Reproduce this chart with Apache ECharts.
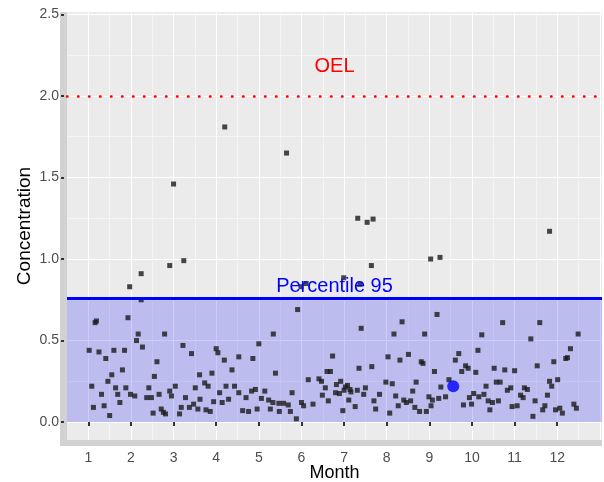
<!DOCTYPE html>
<html>
<head>
<meta charset="utf-8">
<script src="https://cdn.jsdelivr.net/npm/echarts@6/dist/echarts.min.js"></script>
<style>
  html, body { margin: 0; padding: 0; background: #fff; }
  #main { width: 604px; height: 482px; }
</style>
</head>
<body>
<div id="main"></div>
<script>
// tick labels
var monthTicks = [1, 2, 3, 4, 5, 6, 7, 8, 9, 10, 11, 12]
var concTicks = [0, 0.5, 1, 1.5, 2, 2.5]

// reference levels
var oel = 2.0
var p95 = 0.764

// big blue point
var bluePoint = [[9.56, 0.22]]

// samples: [month (jittered), concentration]
var samples = [
  [1.97, 0.83], [2.24, 0.91], [2.91, 0.96], [3.24, 0.99], [3.00, 1.46], [4.20, 1.81],
  [5.65, 1.65], [5.99, 0.83], [6.11, 0.85], [6.99, 0.885], [7.32, 1.25], [7.54, 1.225],
  [7.68, 1.245], [7.64, 0.96], [7.37, 0.845], [9.03, 1.00], [9.25, 1.01], [11.82, 1.17],
  [2.24, 0.75], [1.19, 0.62], [1.16, 0.61], [1.93, 0.64], [2.17, 0.54], [2.79, 0.54],
  [2.13, 0.50], [2.27, 0.46], [1.02, 0.44], [1.25, 0.43], [1.60, 0.44], [1.85, 0.44],
  [3.22, 0.47], [3.42, 0.42], [1.41, 0.39], [2.61, 0.37], [1.80, 0.32], [1.55, 0.29],
  [2.55, 0.28], [1.46, 0.25], [1.08, 0.22], [1.64, 0.21], [1.88, 0.21], [2.42, 0.21],
  [3.04, 0.22], [3.51, 0.21], [1.31, 0.17], [1.69, 0.17], [1.99, 0.17], [2.09, 0.16],
  [2.37, 0.15], [2.48, 0.15], [2.66, 0.17], [2.91, 0.19], [2.95, 0.16], [3.28, 0.15],
  [3.61, 0.29], [1.74, 0.12], [1.12, 0.09], [1.37, 0.10], [1.50, 0.04], [2.52, 0.055],
  [2.71, 0.08], [2.81, 0.05], [2.76, 0.06], [3.14, 0.05], [3.18, 0.09], [3.37, 0.09],
  [3.47, 0.11], [3.57, 0.08],
  [5.91, 0.69], [5.34, 0.54], [5.00, 0.48], [4.00, 0.45], [4.04, 0.425], [4.53, 0.40],
  [4.86, 0.39], [4.19, 0.38], [4.37, 0.32], [3.90, 0.30], [5.39, 0.30], [3.73, 0.24],
  [3.81, 0.22], [4.23, 0.22], [4.43, 0.22], [4.08, 0.18], [4.53, 0.18], [4.83, 0.19],
  [4.92, 0.20], [5.14, 0.19], [4.70, 0.15], [3.62, 0.14], [3.94, 0.125], [4.14, 0.12],
  [4.29, 0.14], [5.06, 0.145], [5.23, 0.135], [5.33, 0.12], [5.78, 0.18], [6.16, 0.26],
  [6.41, 0.265], [6.47, 0.25], [6.60, 0.31], [6.49, 0.165], [5.47, 0.115], [5.58, 0.115],
  [5.69, 0.105], [6.00, 0.12], [6.05, 0.10], [6.27, 0.11], [3.76, 0.075], [3.86, 0.065],
  [4.62, 0.07], [4.76, 0.065], [4.96, 0.08], [5.27, 0.08], [5.48, 0.065], [5.74, 0.065],
  [5.88, 0.02], [6.63, 0.13],
  [9.18, 0.66], [7.40, 0.575], [8.36, 0.615], [8.17, 0.54], [8.89, 0.54], [6.73, 0.405],
  [8.03, 0.40], [8.51, 0.415], [8.31, 0.38], [8.81, 0.37], [8.85, 0.36], [9.61, 0.38],
  [9.69, 0.42], [7.35, 0.33], [7.65, 0.34], [9.12, 0.31], [6.68, 0.31], [6.92, 0.25],
  [6.82, 0.23], [6.56, 0.21], [7.03, 0.215], [7.08, 0.225], [7.00, 0.195], [7.16, 0.185],
  [7.14, 0.20], [7.31, 0.195], [7.50, 0.21], [7.98, 0.245], [8.13, 0.235], [8.69, 0.245],
  [8.61, 0.19], [9.27, 0.215], [9.46, 0.26], [6.80, 0.18], [6.89, 0.175], [7.46, 0.17],
  [7.83, 0.17], [8.21, 0.16], [7.11, 0.135], [7.70, 0.13], [8.40, 0.135], [8.46, 0.12],
  [8.56, 0.13], [8.99, 0.155], [9.07, 0.135], [9.22, 0.145], [9.38, 0.155], [8.27, 0.10],
  [8.66, 0.09], [7.26, 0.095], [7.74, 0.08], [6.97, 0.07], [8.07, 0.055], [8.77, 0.065],
  [8.93, 0.065], [9.04, 0.10],
  [10.72, 0.61], [11.59, 0.61], [10.23, 0.535], [11.38, 0.51], [12.49, 0.54], [10.14, 0.44],
  [12.31, 0.45], [12.20, 0.39], [12.24, 0.395], [11.92, 0.37], [9.85, 0.345], [9.91, 0.33],
  [9.76, 0.31], [10.09, 0.305], [10.52, 0.33], [10.77, 0.32], [11.00, 0.315], [11.53, 0.345],
  [11.82, 0.25], [11.87, 0.22], [12.01, 0.26], [10.57, 0.245], [10.66, 0.245], [10.33, 0.22],
  [10.83, 0.195], [10.91, 0.21], [11.23, 0.21], [11.30, 0.20], [10.04, 0.175], [9.94, 0.15],
  [10.16, 0.155], [10.28, 0.17], [11.14, 0.165], [11.20, 0.15], [11.77, 0.165], [10.38, 0.13],
  [10.48, 0.12], [10.62, 0.13], [11.48, 0.13], [9.80, 0.105], [9.99, 0.11], [10.94, 0.095],
  [11.06, 0.10], [11.71, 0.10], [11.66, 0.075], [11.96, 0.075], [12.06, 0.085], [12.12, 0.055],
  [12.39, 0.11], [12.45, 0.085], [10.42, 0.075], [11.43, 0.035]
]

var font = 'Liberation Sans, Arial, sans-serif'
var xMin = 0.5, xMax = 13.05
var yMin = -0.11, yMax = 2.515

var chart = echarts.init(document.getElementById('main'))

var option = {
  backgroundColor: '#ffffff',
  animation: false,
  grid: {
    left: 67, right: 2, top: 12, bottom: 42,
    outerBoundsMode: 'none', containLabel: false,
    show: true, backgroundColor: '#ebebeb', borderWidth: 0
  },
  // grey strips along left and bottom of panel
  graphic: [
    { type: 'rect', z: -10, shape: { x: 60, y: 12, width: 7, height: 434 }, style: { fill: '#d2d2d2' } },
    { type: 'rect', z: -10, shape: { x: 60, y: 440, width: 542, height: 6 }, style: { fill: '#d2d2d2' } }
  ],
  xAxis: [
    {
      // grid lines only
      type: 'value', min: xMin, max: xMax, interval: 0.5,
      axisLine: { show: false }, axisTick: { show: false }, axisLabel: { show: false },
      splitLine: { show: true, showMinLine: false, showMaxLine: false,
        lineStyle: { color: ['#ffffff', '#f5f5f5'], width: 1 } }
    },
    {
      // ticks + labels
      type: 'value', min: xMin, max: xMax, position: 'bottom',
      axisLine: { show: false },
      axisTick: { show: true, customValues: monthTicks, length: 4, lineStyle: { color: '#333', width: 2 } },
      axisLabel: { customValues: monthTicks, color: '#4d4d4d', fontSize: 14, margin: 11, fontFamily: font },
      splitLine: { show: false },
      name: 'Month', nameLocation: 'middle', nameGap: 24, nameMoveOverlap: false,
      nameTextStyle: { color: '#000', fontSize: 18, fontFamily: font }
    }
  ],
  yAxis: [
    {
      type: 'value', min: yMin, max: yMax, minInterval: 0.25, maxInterval: 0.25, position: 'left',
      axisLine: { show: false }, axisTick: { show: false }, axisLabel: { show: false },
      splitLine: { show: true, showMinLine: false, showMaxLine: false,
        lineStyle: { color: ['#ffffff', '#f5f5f5'], width: 1 } }
    },
    {
      type: 'value', min: yMin, max: yMax, position: 'left', offset: 3,
      axisLine: { show: false },
      axisTick: { show: true, customValues: concTicks, length: 3, lineStyle: { color: '#333', width: 2 } },
      axisLabel: { customValues: concTicks, color: '#4d4d4d', fontSize: 14, margin: 5, fontFamily: font,
        formatter: function (v) { return v.toFixed(1) } },
      splitLine: { show: false },
      name: 'Concentration', nameLocation: 'middle', nameGap: 30, nameMoveOverlap: false,
      nameTextStyle: { color: '#000', fontSize: 19, fontFamily: font }
    }
  ],
  series: [
    {
      // reference band and lines
      type: 'scatter', xAxisIndex: 0, yAxisIndex: 0, data: [], z: 1,
      markArea: {
        silent: true,
        itemStyle: { color: 'rgba(0,0,255,0.2)' },
        label: { show: false },
        data: [[{ yAxis: 0 }, { yAxis: p95 }]]
      },
      markLine: {
        silent: true, symbol: 'none',
        data: [
          {
            yAxis: oel,
            lineStyle: { color: '#ff0000', width: 2.5, type: [0.5, 10.5], cap: 'round' },
            label: { show: true, position: 'insideMiddleTop', distance: 19, formatter: 'OEL',
              color: '#ff0000', fontSize: 20, fontFamily: font }
          },
          {
            yAxis: p95,
            lineStyle: { color: '#0000ff', width: 3, type: 'solid' },
            label: { show: true, position: 'insideMiddleTop', distance: 2, formatter: 'Percentile 95',
              color: '#0000ff', fontSize: 20, fontFamily: font }
          }
        ]
      }
    },
    {
      type: 'scatter', xAxisIndex: 0, yAxisIndex: 0, z: 3,
      data: samples, symbol: 'rect', symbolSize: 5,
      itemStyle: { color: '#1a1a1a' }
    },
    {
      type: 'scatter', xAxisIndex: 0, yAxisIndex: 0, z: 4,
      data: bluePoint, symbol: 'circle', symbolSize: 12,
      itemStyle: { color: '#0000ff' }
    }
  ]
}

chart.setOption(option)
</script>
</body>
</html>
